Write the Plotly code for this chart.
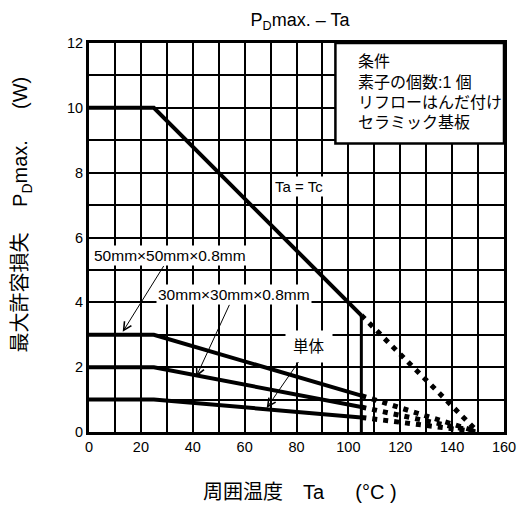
import plotly.graph_objects as go

# ---- data ----
ta_knee = [0, 25, 105]          # Ta points of the solid segments
tc_y = [10, 10, 3.6]            # Ta = Tc
s50_y = [3, 3, 1.12]            # 50mm x 50mm x 0.8mm
s30_y = [2, 2, 0.77]            # 30mm x 30mm x 0.8mm
single_y = [1, 1, 0.45]         # 単体
ta_end = 150                    # derating end temperature
x_ticks = [0, 20, 40, 60, 80, 100, 120, 140, 160]
y_ticks = [0, 2, 4, 6, 8, 10, 12]

cond_lines = ["条件", "素子の個数:1 個", "リフローはんだ付け", "セラミック基板"]

FONT = "Liberation Sans, Arial, Noto Sans CJK JP"
BLACK = "#000000"
OFF = 8  # page body margin

fig = go.Figure()

for ys in [tc_y, s50_y, s30_y, single_y]:
    fig.add_trace(go.Scatter(x=ta_knee, y=ys, mode="lines",
                             line=dict(color=BLACK, width=4), hoverinfo="skip"))
    fig.add_trace(go.Scatter(x=[ta_knee[-1], ta_end], y=[ys[-1], 0], mode="lines",
                             line=dict(color=BLACK, width=5, dash="5px,6px"),
                             hoverinfo="skip"))

# vertical drop of Ta = Tc curve
fig.add_trace(go.Scatter(x=[ta_knee[-1], ta_knee[-1]], y=[tc_y[-1], 0], mode="lines",
                         line=dict(color=BLACK, width=3), hoverinfo="skip"))

# conditions box
fig.add_shape(type="rect", x0=95, x1=160, y0=8.9, y1=12, xref="x", yref="y",
              fillcolor="white", line=dict(color=BLACK, width=2.5), layer="above")
for i, t in enumerate(cond_lines):
    fig.add_annotation(x=103, y=11.42 - i * 0.625, text=t, showarrow=False,
                       xanchor="left", yanchor="middle",
                       font=dict(family=FONT, size=16, color=BLACK))

# labels with arrows
fig.add_annotation(x=80.8, y=7.56, text="Ta = Tc", showarrow=False,
                   bgcolor="white", font=dict(family=FONT, size=15, color=BLACK))
fig.add_annotation(x=13, y=3.09, ax=31.2, ay=5.43, axref="x", ayref="y",
                   text="50mm×50mm×0.8mm", showarrow=True, arrowhead=5,
                   arrowsize=1.6, arrowwidth=1, arrowcolor=BLACK, bgcolor="white",
                   font=dict(family=FONT, size=15.5, color=BLACK))
fig.add_annotation(x=41.3, y=1.70, ax=55.9, ay=4.23, axref="x", ayref="y",
                   text="30mm×30mm×0.8mm", showarrow=True, arrowhead=5,
                   arrowsize=1.6, arrowwidth=1, arrowcolor=BLACK, bgcolor="white",
                   font=dict(family=FONT, size=15.5, color=BLACK))
fig.add_annotation(x=68.5, y=0.74, ax=85, ay=2.65, axref="x", ayref="y",
                   text="単体", showarrow=True, arrowhead=5, borderpad=7,
                   arrowsize=1.6, arrowwidth=1, arrowcolor=BLACK, bgcolor="white",
                   font=dict(family=FONT, size=15.5, color=BLACK))

# axis titles as annotations
fig.add_annotation(xref="paper", yref="paper", x=(21 - 89) / 418, y=(432 - 214) / 389,
                   text="最大許容損失　 P<sub>D</sub>max.　  (W)", textangle=-90,
                   showarrow=False, xanchor="center", yanchor="middle",
                   font=dict(family=FONT, size=20, color=BLACK))
fig.add_annotation(xref="paper", yref="paper", x=(302 - 89) / 418, y=-(492 - 432) / 389,
                   text="周囲温度　Ta　  (°C )", showarrow=False,
                   xanchor="center", yanchor="middle",
                   font=dict(family=FONT, size=20, color=BLACK))

W, H = 528 - OFF, 510 - OFF
fig.update_layout(
    width=W, height=H,
    margin=dict(l=89 - OFF, r=21, t=43 - OFF, b=78),
    paper_bgcolor="white", plot_bgcolor="white",
    showlegend=False,
    title=dict(text="P<sub>D</sub>max. – Ta", x=(300 - OFF) / W, xanchor="center",
               y=1 - (20 - OFF) / H, yanchor="middle",
               font=dict(family=FONT, size=18, color=BLACK)),
    font=dict(family=FONT, color=BLACK),
)
fig.update_xaxes(range=[0, 160], tickvals=x_ticks, ticks="",
                 tickfont=dict(family=FONT, size=14.5, color=BLACK),
                 showgrid=True, gridcolor=BLACK, gridwidth=1.6,
                 minor=dict(dtick=10, showgrid=True, gridcolor=BLACK, gridwidth=1.6),
                 showline=True, linecolor=BLACK, linewidth=3, mirror=True,
                 zeroline=False, fixedrange=True)
fig.update_yaxes(range=[0, 12], tickvals=y_ticks, ticks="",
                 tickfont=dict(family=FONT, size=14.5, color=BLACK),
                 showgrid=True, gridcolor=BLACK, gridwidth=1.6,
                 minor=dict(dtick=1, showgrid=True, gridcolor=BLACK, gridwidth=1.6),
                 showline=True, linecolor=BLACK, linewidth=3, mirror=True,
                 zeroline=False, fixedrange=True)

fig.write_html("out.html")
